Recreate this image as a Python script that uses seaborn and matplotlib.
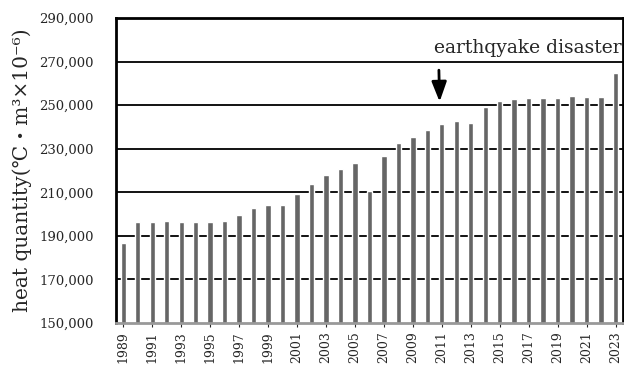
import numpy as np
import pandas as pd
import matplotlib
matplotlib.use("Agg")
import matplotlib.pyplot as plt
import seaborn as sns

sns.set_style("white")
plt.rcParams['font.family'] = ['DejaVu Serif', 'Noto Sans CJK JP']

years = list(range(1989, 2024))
heat = [186800, 196200, 196200, 196700, 196200, 196200, 196200, 197000,
        199700, 202700, 204300, 204000, 209300, 213800, 218100, 220800,
        223400, 210600, 226500, 232500, 235600, 238800, 241400, 242600,
        241800, 249400, 252100, 252700, 253100, 253100, 253100, 254300,
        254000, 254000, 264600]
yticks = list(range(150000, 290001, 20000))

df = pd.DataFrame({'year': [str(y) for y in years], 'heat': heat})

fig = plt.figure(figsize=(6.24, 3.7), dpi=100)
ax = fig.add_axes([0.186, 0.127, 0.812, 0.824])

# gridlines sit behind the bars
for v in yticks[1:-1]:
    ax.axhline(v, color='black', lw=1.3, zorder=0)

sns.barplot(data=df, x='year', y='heat', color='#666666', width=0.37,
            saturation=1, ax=ax, zorder=2)

ax.set_ylim(150000, 290000)
ax.set_xlim(-0.5, len(years) - 0.5)
ax.set_yticks(yticks)
ax.set_yticklabels([f"{v:,}" for v in yticks], fontsize=9.5)
ax.tick_params(axis='y', length=0, pad=16)

pos = list(range(0, len(years), 2))
ax.set_xticks(pos)
ax.set_xticklabels([str(years[i]) for i in pos], rotation=90, fontsize=9)
ax.tick_params(axis='x', length=3, width=0.8, pad=3, direction='out',
               bottom=True)

for s in ['left', 'top', 'right']:
    ax.spines[s].set_color('black')
    ax.spines[s].set_linewidth(2)
ax.spines['bottom'].set_color('#999999')
ax.spines['bottom'].set_linewidth(2)

ax.set_xlabel('')
ax.set_ylabel('heat quantity(℃・m³×10⁻⁶)', fontsize=14.5, labelpad=5)

ax.text(0.998, 0.885, 'earthqyake disaster', transform=ax.transAxes,
        ha='right', va='baseline', fontsize=13.5)
ax.annotate('', xy=(21.85, 251600), xytext=(21.8, 266100),
            arrowprops=dict(arrowstyle='-|>,head_width=0.45,head_length=1.2',
                            color='black', lw=2, shrinkA=0, shrinkB=0))

fig.savefig('out.png', dpi=100)
